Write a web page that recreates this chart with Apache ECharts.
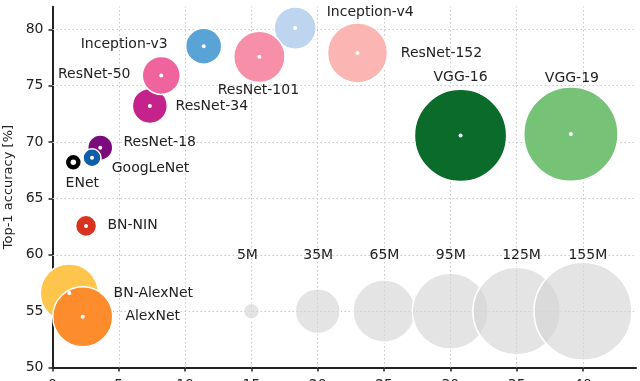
<!DOCTYPE html>
<html>
<head>
<meta charset="utf-8">
<script src="https://cdn.jsdelivr.net/npm/echarts@6/dist/echarts.min.js"></script>
<style>html,body{margin:0;padding:0;background:#fff;}#c{width:640px;height:381px;}</style>
</head>
<body>
<div id="c"></div>
<script>
// ---- data ----
const models   = ['BN-AlexNet','AlexNet','BN-NIN','ENet','ResNet-18','GoogLeNet','ResNet-34','ResNet-50','Inception-v3','Inception-v4','ResNet-101','ResNet-152','VGG-16','VGG-19'];
const opsG     = [1.27, 2.28, 2.53, 1.57, 3.6, 2.98, 7.34, 8.2, 11.4, 18.3, 15.6, 23.0, 30.77, 39.09];
const top1     = [56.6, 54.5, 62.56, 68.2, 69.5, 68.6, 73.2, 75.9, 78.5, 80.1, 77.55, 77.9, 70.58, 70.7];
const paramsM  = [57, 60.5, 8.9, 0.37, 12.1, 6.8, 22.1, 25.7, 23.3, 31, 45, 60.6, 138, 144];

const refParams = [5, 35, 65, 95, 125, 155];
const refOps    = [15, 20, 25, 30, 35, 40];
const refTop1   = 55;
const refLabels = ['5M', '35M', '65M', '95M', '125M', '155M'];

const xTicks = [0, 5, 10, 15, 20, 25, 30, 35, 40];
const yTicks = [50, 55, 60, 65, 70, 75, 80];

// ---- styles ----
const palette = {
  'BN-AlexNet':'#fdc54b','AlexNet':'#fd8c2c','BN-NIN':'#d7331f','ENet':'#000000',
  'ResNet-18':'#7b0b7c','GoogLeNet':'#0c5fa8','ResNet-34':'#c4238b','ResNet-50':'#f0649e',
  'Inception-v3':'#5aa3d7','Inception-v4':'#bdd5ef','ResNet-101':'#f78fa8','ResNet-152':'#fbb6b3',
  'VGG-16':'#0b6b2b','VGG-19':'#76c276'
};
const labelOffset = {
  'BN-AlexNet':[84,0],'AlexNet':[70,0],'BN-NIN':[46.5,-1],'ENet':[9,21],
  'ResNet-18':[59.5,-5.7],'GoogLeNet':[58.5,10.3],'ResNet-34':[62,0],'ResNet-50':[-67,-1],
  'Inception-v3':[-79.5,-2],'Inception-v4':[75,-15.5],'ResNet-101':[-1,33],'ResNet-152':[84,0],
  'VGG-16':[0,-57.7],'VGG-19':[1,-56]
};
function bubbleSize(p) {
  const r = 4.06 * Math.sqrt(p) - 1.6;
  return Math.max(16, 2 * r);
}
const FONT = 'DejaVu Sans';
const TXT = '#222222';

const chart = echarts.init(document.getElementById('c'), null, {renderer: 'canvas'});
chart.setOption({
  animation: false,
  backgroundColor: '#fff',
  textStyle: {fontFamily: FONT},
  grid: {left: 52.5, right: 4, top: 6.7, bottom: 13.5, containLabel: false, outerBoundsMode: 'none'},
  xAxis: {
    type: 'value', min: 0, max: 44,
    axisLine: {show: true, onZero: false, lineStyle: {color: '#222', width: 2}},
    axisTick: {show: true, length: 4, lineStyle: {color: '#222', width: 1.5}, customValues: xTicks},
    axisLabel: {color: TXT, fontSize: 14, fontFamily: FONT, margin: 11, customValues: xTicks},
    splitLine: {show: false}
  },
  yAxis: {
    type: 'value', min: 50, max: 82,
    name: 'Top-1 accuracy [%]', nameLocation: 'middle', nameGap: 37, nameRotate: 90,
    nameTextStyle: {color: TXT, fontSize: 13, fontFamily: FONT},
    axisLine: {show: true, onZero: false, lineStyle: {color: '#222', width: 2}},
    axisTick: {show: true, length: 4, lineStyle: {color: '#222', width: 1.5}, customValues: yTicks},
    axisLabel: {color: TXT, fontSize: 14, fontFamily: FONT, margin: 9, customValues: yTicks},
    splitLine: {show: false}
  },
  series: [
    {
      type: 'scatter', data: [], silent: true,
      markLine: {
        silent: true, symbol: 'none', z: 1, animation: false,
        label: {show: false},
        lineStyle: {type: [1.5, 2.5], color: '#c8c8c8', width: 1},
        emphasis: {disabled: true},
        data: xTicks.filter(v => v > 0).map(v => ({xAxis: v}))
              .concat(yTicks.filter(v => v > 50).map(v => ({yAxis: v})))
      }
    },
    {
      type: 'scatter', z: 2, silent: true,
      data: refOps.map((x, i) => ({value: [x, refTop1, refParams[i]], label: {formatter: refLabels[i]}})),
      symbolSize: v => bubbleSize(v[2]),
      itemStyle: {color: 'rgba(212,212,212,0.62)', opacity: 1, borderColor: '#ffffff', borderWidth: 1.5},
      label: {show: true, position: 'inside', align: 'left', verticalAlign: 'middle',
              offset: [-14.5, -56], color: TXT, fontSize: 14, fontFamily: FONT},
      emphasis: {disabled: true}
    },
    {
      type: 'scatter', z: 3, silent: true,
      data: models.map((m, i) => ({
        name: m, value: [opsG[i], top1[i], paramsM[i]],
        itemStyle: {color: palette[m]},
        label: {offset: labelOffset[m]}
      })),
      symbolSize: v => bubbleSize(v[2]),
      itemStyle: {opacity: 1, borderColor: '#ffffff', borderWidth: 1.5},
      label: {show: true, position: 'inside', align: 'center', verticalAlign: 'middle',
              formatter: p => p.name, color: TXT, fontSize: 14, fontFamily: FONT},
      emphasis: {disabled: true}
    },
    {
      type: 'scatter', z: 4, silent: true,
      data: models.map((m, i) => ({value: [opsG[i], top1[i]], symbolSize: m === 'ENet' ? 5.5 : 4})),
      itemStyle: {color: '#ffffff', opacity: 1},
      emphasis: {disabled: true}
    }
  ]
});
</script>
</body>
</html>
